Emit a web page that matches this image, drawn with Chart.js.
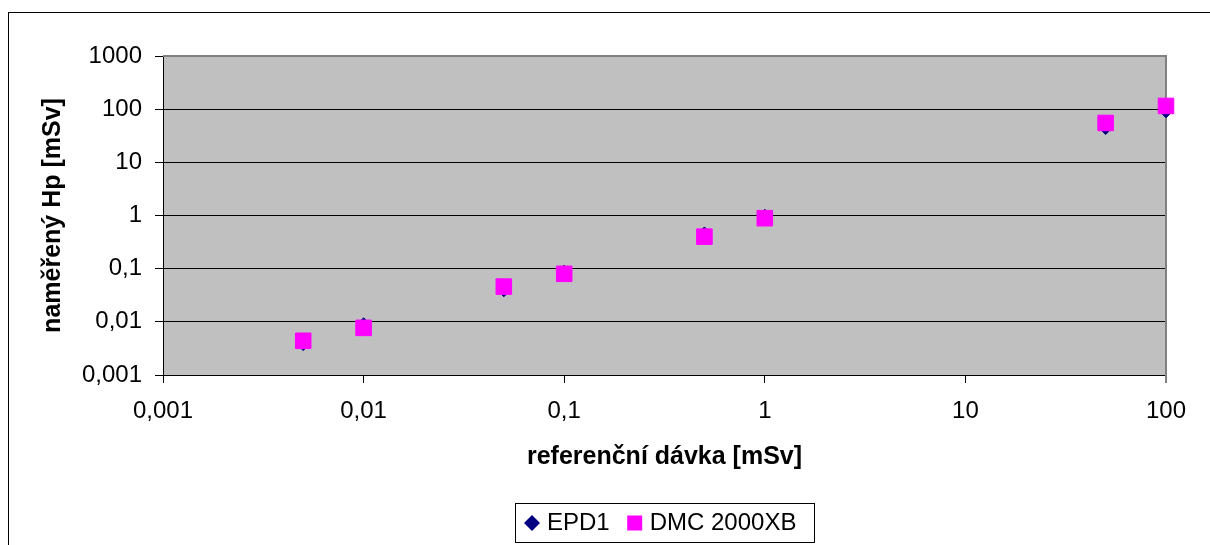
<!DOCTYPE html>
<html>
<head>
<meta charset="utf-8">
<script src="https://cdn.jsdelivr.net/npm/chart.js@4/dist/chart.umd.min.js"></script>
<style>
html, body { margin: 0; padding: 0; background: #fff; overflow: hidden; }
#frame { position: absolute; left: 8px; top: 12px; width: 1400px; height: 800px; border: 1px solid #000; box-sizing: border-box; }
#wrap { position: absolute; left: 0; top: 0; width: 1210px; height: 545px; }
</style>
</head>
<body>
<div id="frame"></div>
<div id="wrap"><canvas id="grafico" width="1210" height="545"></canvas></div>
<script>
// referencni davky [mSv]
const referenceDoses = [0.005, 0.01, 0.05, 0.1, 0.5, 1, 50, 100];
// namerene Hp [mSv]
const epd1Values = [0.0039, 0.0088, 0.040, 0.086, 0.45, 0.97, 45, 93];
const dmcValues = [0.0044, 0.0077, 0.046, 0.080, 0.40, 0.89, 55, 115];

const xTickValues = [0.001, 0.01, 0.1, 1, 10, 100];
const xTickLabels = ['0,001', '0,01', '0,1', '1', '10', '100'];
const yTickValues = [0.001, 0.01, 0.1, 1, 10, 100, 1000];
const yTickLabels = ['0,001', '0,01', '0,1', '1', '10', '100', '1000'];

const FONT = '"Liberation Sans", Arial, sans-serif';
const ctx = document.getElementById('grafico');

const toPoints = (ys) => referenceDoses.map((x, i) => ({ x: x, y: ys[i] }));

// seda plocha grafu
const plotBackground = {
    id: 'plotBackground',
    beforeDraw(chart) {
        const a = chart.chartArea;
        const c = chart.ctx;
        c.save();
        c.fillStyle = '#c0c0c0';
        c.fillRect(a.left, a.top, a.right - a.left, a.bottom - a.top);
        c.restore();
    },
    beforeDatasetsDraw(chart) {
        const a = chart.chartArea;
        const c = chart.ctx;
        c.save();
        c.strokeStyle = '#808080';
        c.lineWidth = 2;
        c.beginPath();
        c.moveTo(a.left, a.top);
        c.lineTo(a.right, a.top);
        c.lineTo(a.right, a.bottom + 8);
        c.stroke();
        c.restore();
    }
};

// legenda v ramecku pod grafem
const boxLegend = {
    id: 'boxLegend',
    afterDraw(chart) {
        const c = chart.ctx;
        const a = chart.chartArea;
        const sets = chart.data.datasets;
        c.save();
        c.font = '24px ' + FONT;
        const marker = 16, gapIn = 7, gapOut = 17, padL = 9, padR = 18;
        let w = padL + padR;
        sets.forEach((ds, i) => {
            w += marker + gapIn + c.measureText(ds.label).width + (i < sets.length - 1 ? gapOut : 0);
        });
        const x0 = Math.round((a.left + a.right) / 2 - w / 2);
        const y0 = 503, h = 39;
        c.strokeStyle = '#000';
        c.lineWidth = 1;
        c.strokeRect(x0 + 0.5, y0 + 0.5, Math.round(w), h);
        const cy = y0 + h / 2 + 0.5;
        let x = x0 + padL;
        sets.forEach(ds => {
            const mx = x + marker / 2;
            c.fillStyle = ds.backgroundColor;
            c.beginPath();
            if (ds.pointStyle === 'rectRot') {
                c.moveTo(mx, cy - 8);
                c.lineTo(mx + 8, cy);
                c.lineTo(mx, cy + 8);
                c.lineTo(mx - 8, cy);
                c.closePath();
            } else {
                c.rect(mx - 7.5, cy - 7.5, 15, 15);
            }
            c.fill();
            x += marker + gapIn;
            c.fillStyle = '#000';
            c.textBaseline = 'middle';
            c.textAlign = 'left';
            c.fillText(ds.label, x, cy);
            x += c.measureText(ds.label).width + gapOut;
        });
        c.restore();
    }
};

new Chart(ctx, {
    type: 'scatter',
    data: {
        datasets: [{
            label: 'EPD1',
            data: toPoints(epd1Values),
            pointStyle: 'rectRot',
            pointRadius: 7,
            pointBorderWidth: 1,
            backgroundColor: '#000080',
            borderColor: '#000080',
            order: 1,
            clip: false
        }, {
            label: 'DMC 2000XB',
            data: toPoints(dmcValues),
            pointStyle: 'rect',
            pointRadius: 11,
            pointBorderWidth: 1,
            backgroundColor: '#ff00ff',
            borderColor: '#ff00ff',
            order: 0,
            clip: false
        }]
    },
    options: {
        responsive: false,
        animation: false,
        events: [],
        layout: { padding: { top: 56, right: 44, left: 0, bottom: 0 } },
        plugins: {
            legend: { display: false },
            tooltip: { enabled: false }
        },
        scales: {
            x: {
                type: 'logarithmic',
                min: 0.001,
                max: 100,
                afterBuildTicks: (s) => { s.ticks = xTickValues.map(v => ({ value: v })); },
                afterFit: (s) => { s.height = 170; },
                border: { color: '#000', width: 1 },
                grid: { drawOnChartArea: false, drawTicks: true, tickLength: 8, color: '#000' },
                ticks: {
                    autoSkip: false,
                    maxRotation: 0,
                    padding: 14,
                    color: '#000',
                    font: { family: FONT, size: 24 },
                    callback: (v, i) => xTickLabels[i]
                },
                title: {
                    display: true,
                    text: 'referenční dávka [mSv]',
                    color: '#000',
                    font: { family: FONT, size: 25, weight: 'bold' },
                    padding: { top: 0, bottom: 73 }
                }
            },
            y: {
                type: 'logarithmic',
                min: 0.001,
                max: 1000,
                afterBuildTicks: (s) => { s.ticks = yTickValues.map(v => ({ value: v })); },
                afterFit: (s) => { s.width = 163; },
                border: { color: '#000', width: 1 },
                grid: { drawOnChartArea: true, drawTicks: true, tickLength: 8, color: '#000' },
                ticks: {
                    autoSkip: false,
                    padding: 13,
                    color: '#000',
                    font: { family: FONT, size: 24 },
                    callback: (v, i) => yTickLabels[i]
                },
                title: {
                    display: true,
                    text: 'naměřený Hp [mSv]',
                    color: '#000',
                    font: { family: FONT, size: 25, weight: 'bold' },
                    padding: { top: 38, bottom: 0 }
                }
            }
        }
    },
    plugins: [plotBackground, boxLegend]
});
</script>
</body>
</html>
